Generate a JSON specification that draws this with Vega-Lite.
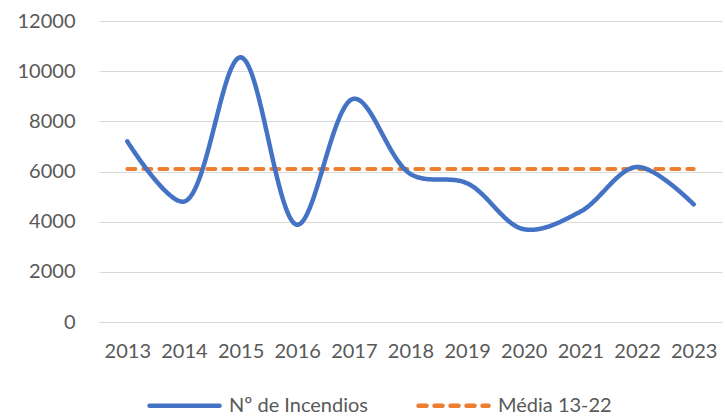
{
  "$schema": "https://vega.github.io/schema/vega-lite/v6.json",
  "width": 623,
  "height": 301,
  "autosize": {"type": "none"},
  "padding": {"left": 99, "top": 21, "right": 3, "bottom": 94},
  "background": "white",
  "config": {
    "view": {"stroke": null},
    "font": "Lato",
    "axis": {"labelFont": "Lato", "labelFontSize": 20, "labelColor": "#595959", "ticks": false, "title": null},
    "legend": {"labelFont": "Lato", "labelFontSize": 20, "labelColor": "#595959"}
  },
  "data": {
    "values": [
      {"ano": "2013", "serie": "Nº de Incendios", "valor": 7200},
      {"ano": "2014", "serie": "Nº de Incendios", "valor": 4800},
      {"ano": "2015", "serie": "Nº de Incendios", "valor": 10550},
      {"ano": "2016", "serie": "Nº de Incendios", "valor": 3880},
      {"ano": "2017", "serie": "Nº de Incendios", "valor": 8900},
      {"ano": "2018", "serie": "Nº de Incendios", "valor": 5900},
      {"ano": "2019", "serie": "Nº de Incendios", "valor": 5530},
      {"ano": "2020", "serie": "Nº de Incendios", "valor": 3700},
      {"ano": "2021", "serie": "Nº de Incendios", "valor": 4400},
      {"ano": "2022", "serie": "Nº de Incendios", "valor": 6180},
      {"ano": "2023", "serie": "Nº de Incendios", "valor": 4690},
      {"ano": "2013", "serie": "Média 13-22", "valor": 6095},
      {"ano": "2014", "serie": "Média 13-22", "valor": 6095},
      {"ano": "2015", "serie": "Média 13-22", "valor": 6095},
      {"ano": "2016", "serie": "Média 13-22", "valor": 6095},
      {"ano": "2017", "serie": "Média 13-22", "valor": 6095},
      {"ano": "2018", "serie": "Média 13-22", "valor": 6095},
      {"ano": "2019", "serie": "Média 13-22", "valor": 6095},
      {"ano": "2020", "serie": "Média 13-22", "valor": 6095},
      {"ano": "2021", "serie": "Média 13-22", "valor": 6095},
      {"ano": "2022", "serie": "Média 13-22", "valor": 6095},
      {"ano": "2023", "serie": "Média 13-22", "valor": 6095}
    ]
  },
  "encoding": {
    "x": {
      "field": "ano", "type": "ordinal",
      "scale": {"type": "point", "padding": 0.5},
      "axis": {"labelAngle": 0, "domain": true, "domainColor": "#d9d9d9", "domainWidth": 1, "labelPadding": 19, "grid": false}
    },
    "y": {
      "field": "valor", "type": "quantitative",
      "scale": {"domain": [0, 12000], "nice": false},
      "axis": {"values": [0, 2000, 4000, 6000, 8000, 10000, 12000], "format": "d", "domain": false, "grid": true, "gridColor": "#d9d9d9", "gridWidth": 1, "labelPadding": 24}
    },
    "color": {
      "field": "serie", "type": "nominal",
      "scale": {"domain": ["Nº de Incendios", "Média 13-22"], "range": ["#4472C4", "#ED7D31"]},
      "legend": {
        "title": null, "orient": "none", "direction": "horizontal",
        "legendX": 48, "legendY": 347,
        "symbolType": "stroke", "symbolSize": 4900, "symbolStrokeWidth": 4.5,
        "labelOffset": 7, "columnPadding": 40,
        "encode": {"symbols": {"update": {"strokeCap": {"value": "round"}}}}
      }
    },
    "strokeDash": {
      "field": "serie", "type": "nominal",
      "scale": {"domain": ["Nº de Incendios", "Média 13-22"], "range": [[1, 0], [8, 8]]},
      "legend": null
    }
  },
  "layer": [
    {
      "transform": [{"filter": "datum.serie === 'Média 13-22'"}],
      "mark": {"type": "line", "strokeWidth": 4, "strokeCap": "round"}
    },
    {
      "transform": [{"filter": "datum.serie === 'Nº de Incendios'"}],
      "mark": {"type": "line", "strokeWidth": 4.5, "strokeCap": "round", "interpolate": "catmull-rom"}
    }
  ]
}
